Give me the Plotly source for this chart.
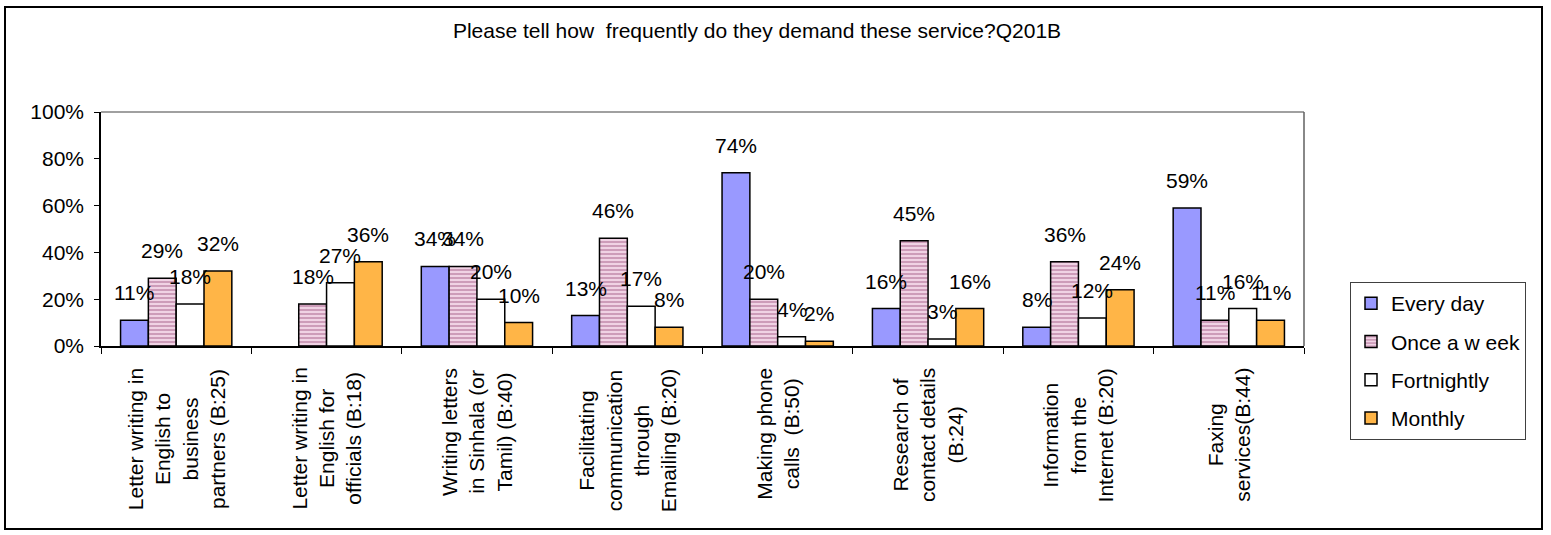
import plotly.graph_objects as go

# ---- data ----
categories = [
    "Letter writing in<br>English to<br>business<br>partners (B:25)",
    "Letter writing in<br>English for<br>officials (B:18)",
    "Writing letters<br>in Sinhala (or<br>Tamil) (B:40)",
    "Facilitating<br>communication<br>through<br>Emailing (B:20)",
    "Making phone<br>calls  (B:50)",
    "Research of<br>contact details<br>(B:24)",
    "Information<br>from the<br>Internet (B:20)",
    "Faxing<br>services(B:44)",
]
series_names = ["Every day", "Once a w eek", "Fortnightly", "Monthly"]
every_day = [11, None, 34, 13, 74, 16, 8, 59]
once_a_week = [29, 18, 34, 46, 20, 45, 36, 11]
fortnightly = [18, 27, 20, 17, 4, 3, 12, 16]
monthly = [32, 36, 10, 8, 2, 16, 24, 11]
y_ticks = [0, 20, 40, 60, 80, 100]
title_text = "Please tell how  frequently do they demand these service?Q201B"

# ---- styling ----
W, H = 1551, 535
ML, MR, MT, MB = 101, 247, 112, 189
FONT = "Liberation Sans, Arial, sans-serif"
FS = 21
BARGAP = 0.26

series_values = [every_day, once_a_week, fortnightly, monthly]
colors = ["#9999FF", "#F0D2E4", "#FFFFFF", "#FFB547"]
patterns = [None, dict(shape="-", fgcolor="#A35A86", bgcolor="#F0D2E4", size=4, solidity=0.45), None, None]

fig = go.Figure()
for name, vals, col, pat in zip(series_names, series_values, colors, patterns):
    marker = dict(color=col, line=dict(color="#000000", width=1.5))
    if pat:
        marker["pattern"] = pat
    fig.add_trace(go.Bar(
        x=list(range(len(categories))), y=vals, name=name, marker=marker,
        legendgroup=name, hoverinfo="skip",
    ))

# data labels above bars
n = len(series_values)
bw = (1 - BARGAP) / n
annotations = []
for i, vals in enumerate(series_values):
    off = (i - (n - 1) / 2) * bw
    for j, v in enumerate(vals):
        if v is None:
            continue
        annotations.append(dict(
            x=j + off, y=v, xref="x", yref="y", text=f"{v}%", showarrow=False,
            yanchor="bottom", xanchor="center", yshift=14,
            font=dict(family=FONT, size=FS, color="#000000"),
        ))

# category labels (rotated, centered lines)
for j, c in enumerate(categories):
    annotations.append(dict(
        x=j, y=0, xref="x", yref="paper", text=c, showarrow=False,
        textangle=-90, align="center", xanchor="center", yanchor="top", yshift=-20,
        font=dict(family=FONT, size=FS, color="#000000"),
    ))

pw = W - ML - MR
ph = H - MT - MB
def px_x(p):
    return (p - ML) / pw
def px_y(p):
    return (H - MB - p) / ph

shapes = [
    # outer chart border
    dict(type="rect", xref="paper", yref="paper", x0=px_x(5), x1=px_x(1542), y0=px_y(529), y1=px_y(7),
         line=dict(color="#000000", width=2), layer="below"),
    # plot area top and right border
    dict(type="line", xref="paper", yref="paper", x0=0, x1=1, y0=1, y1=1,
         line=dict(color="#808080", width=1.5)),
    dict(type="line", xref="paper", yref="paper", x0=1, x1=1, y0=0, y1=1,
         line=dict(color="#606060", width=1.5)),
]

fig.update_layout(
    width=W, height=H,
    margin=dict(l=ML, r=MR, t=MT, b=MB),
    paper_bgcolor="#FFFFFF", plot_bgcolor="#FFFFFF",
    barmode="group", bargap=BARGAP, bargroupgap=0,
    font=dict(family=FONT, size=FS, color="#000000"),
    title=dict(text=title_text, x=757 / W, xanchor="center", xref="container",
               y=1 - 31 / H, yanchor="middle", yref="container",
               font=dict(family=FONT, size=FS, color="#000000")),
    legend=dict(x=px_x(1350), y=px_y(282), xanchor="left", yanchor="top",
                bordercolor="#404040", borderwidth=1, bgcolor="#FFFFFF",
                font=dict(family=FONT, size=FS, color="#000000"),
                tracegroupgap=8, itemwidth=30),
    annotations=annotations,
    shapes=shapes,
    showlegend=True,
)
fig.update_xaxes(
    range=[-0.5, len(categories) - 0.5], tickmode="array",
    tickvals=[j + 0.5 for j in range(-1, len(categories))], showticklabels=False,
    ticks="outside", ticklen=6, tickcolor="#000000", tickwidth=1,
    showline=True, linecolor="#000000", linewidth=1.5, showgrid=False, zeroline=False,
)
fig.update_yaxes(
    range=[0, 100], tickmode="array", tickvals=y_ticks, ticktext=[f"{t}%" for t in y_ticks],
    ticks="outside", ticklen=5, tickcolor="#000000", tickwidth=1,
    showline=True, linecolor="#000000", linewidth=1.5, showgrid=False, zeroline=False,
    tickfont=dict(family=FONT, size=FS, color="#000000"), ticklabelstandoff=6,
)

fig.write_html("out.html")
